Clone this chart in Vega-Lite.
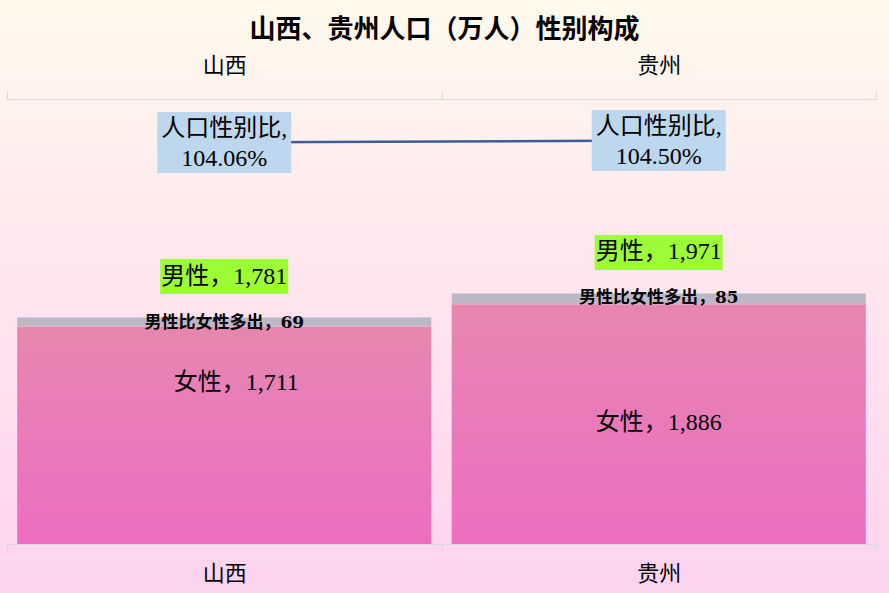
{
  "$schema": "https://vega.github.io/schema/vega-lite/v6.json",
  "description": "山西、贵州人口性别构成：女性柱叠加男性多出部分，上方为人口性别比连线",
  "width": 889,
  "height": 593,
  "autosize": {"type": "none"},
  "padding": 0,
  "config": {
    "view": {
      "stroke": null,
      "fill": {
        "gradient": "linear", "x1": 0, "y1": 0, "x2": 0, "y2": 1,
        "stops": [
          {"offset": 0, "color": "#fffaec"},
          {"offset": 0.4, "color": "#ffe8ee"},
          {"offset": 1, "color": "#fdd3ef"}
        ]
      }
    },
    "font": "Liberation Serif, Noto Sans CJK SC",
    "text": {"color": "#000000"}
  },
  "title": {
    "text": "山西、贵州人口（万人）性别构成",
    "font": "Noto Sans CJK SC",
    "fontWeight": "bold",
    "fontSize": 26,
    "color": "#000000",
    "anchor": "middle",
    "offset": -43
  },
  "data": {
    "values": [
      {"地区": "山西", "男性": 1781, "女性": 1711, "差值": 69, "性别比": 104.06},
      {"地区": "贵州", "男性": 1971, "女性": 1886, "差值": 85, "性别比": 104.50}
    ]
  },
  "transform": [
    {"calculate": "'男性，' + format(datum['男性'], ',')", "as": "男性标签"},
    {"calculate": "'女性，' + format(datum['女性'], ',')", "as": "女性标签"},
    {"calculate": "'男性比女性多出，' + datum['差值']", "as": "差值标签"},
    {"calculate": "'人口性别比,\\n' + format(datum['性别比'], '.2f') + '%'", "as": "比例标签"}
  ],
  "layer": [
    {
      "encoding": {
        "x": {
          "field": "地区", "type": "nominal", "sort": null,
          "scale": {"range": [7, 876], "paddingInner": 0, "paddingOuter": 0},
          "axis": {
            "orient": "bottom", "offset": -49, "title": null, "labelAngle": 0,
            "domainColor": "#d9d9d9", "tickColor": "#d9d9d9", "tickSize": 7,
            "tickBand": "extent", "labelFont": "Noto Sans CJK SC",
            "labelFontSize": 22, "labelColor": "#000000", "labelPadding": 12
          }
        },
        "y": {
          "field": "男性", "type": "quantitative",
          "scale": {"domain": [0, 3500], "range": [544, 99], "nice": false},
          "axis": null
        }
      },
      "layer": [
        {
          "mark": {
            "type": "bar", "width": {"band": 0.953},
            "fill": {
              "gradient": "linear", "x1": 0, "y1": 0, "x2": 0, "y2": 1,
              "stops": [
                {"offset": 0, "color": "#e687b0"},
                {"offset": 1, "color": "#ed6dc1"}
              ]
            }
          },
          "encoding": {"y": {"field": "女性", "type": "quantitative"}}
        },
        {
          "mark": {
            "type": "bar", "width": {"band": 0.953},
            "fill": {
              "gradient": "linear", "x1": 0, "y1": 0, "x2": 0, "y2": 1,
              "stops": [
                {"offset": 0, "color": "#b7b8c8"},
                {"offset": 1, "color": "#c3b6c6"}
              ]
            }
          },
          "encoding": {
            "y": {"field": "女性", "type": "quantitative"},
            "y2": {"field": "男性"}
          }
        },
        {
          "mark": {
            "type": "point", "shape": "M-64,-17.5H64V17.5H-64Z", "size": 4,
            "filled": true, "color": "#9cfc36", "opacity": 1, "strokeWidth": 0,
            "yOffset": -41
          }
        },
        {
          "mark": {"type": "text", "fontSize": 24, "yOffset": -41, "baseline": "middle"},
          "encoding": {"text": {"field": "男性标签"}}
        },
        {
          "mark": {
            "type": "text", "font": "DejaVu Serif, Noto Sans CJK SC",
            "fontSize": 17, "fontWeight": "bold", "yOffset": 5, "baseline": "middle"
          },
          "encoding": {"text": {"field": "差值标签"}}
        },
        {
          "transform": [{"filter": "datum['地区'] === '山西'"}],
          "mark": {"type": "text", "fontSize": 24, "yOffset": 57, "xOffset": 12, "baseline": "middle"},
          "encoding": {
            "y": {"field": "女性", "type": "quantitative"},
            "text": {"field": "女性标签"}
          }
        },
        {
          "transform": [{"filter": "datum['地区'] === '贵州'"}],
          "mark": {"type": "text", "fontSize": 24, "yOffset": 119, "baseline": "middle"},
          "encoding": {
            "y": {"field": "女性", "type": "quantitative"},
            "text": {"field": "女性标签"}
          }
        }
      ]
    },
    {
      "encoding": {
        "x": {
          "field": "地区", "type": "nominal", "sort": null,
          "scale": {"range": [7, 876], "paddingInner": 0, "paddingOuter": 0},
          "axis": {
            "orient": "top", "offset": -99, "title": null, "labelAngle": 0,
            "domainColor": "#d9d9d9", "tickColor": "#d9d9d9", "tickSize": 8,
            "tickBand": "extent", "labelFont": "Noto Sans CJK SC",
            "labelFontSize": 22, "labelColor": "#000000", "labelPadding": 14
          }
        },
        "y": {
          "field": "性别比", "type": "quantitative",
          "scale": {"domain": [15.72, 113.62], "range": [544, 99], "nice": false, "zero": false},
          "axis": null
        }
      },
      "layer": [
        {
          "mark": {"type": "line", "color": "#3b5c95", "strokeWidth": 2.5},
          "encoding": {}
        },
        {
          "mark": {
            "type": "point", "shape": "M-67,-30.5H67V30.5H-67Z", "size": 4,
            "filled": true, "color": "#bdd7ee", "opacity": 1, "strokeWidth": 0
          }
        },
        {
          "mark": {
            "type": "text", "fontSize": 24, "lineBreak": "\n", "lineHeight": 30,
            "baseline": "middle", "yOffset": -13
          },
          "encoding": {"text": {"field": "比例标签"}}
        }
      ]
    }
  ],
  "resolve": {"scale": {"y": "independent"}, "axis": {"x": "independent"}}
}
